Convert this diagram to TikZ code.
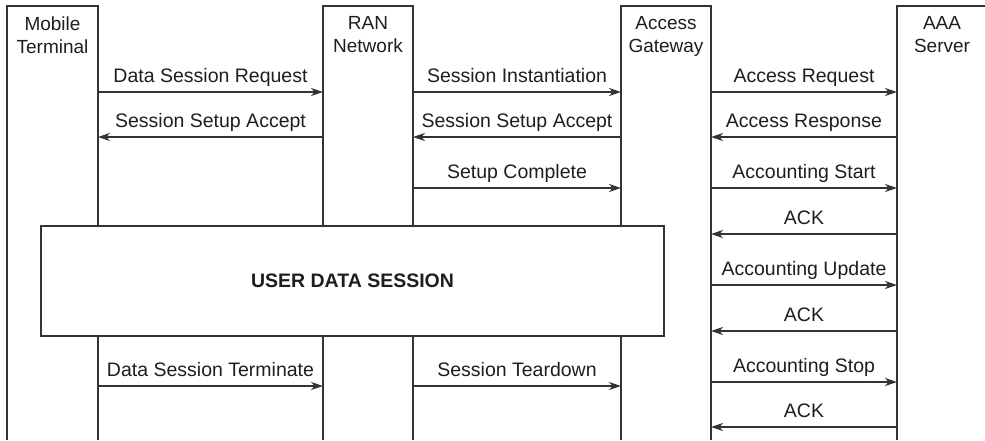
\documentclass[tikz,border=0pt]{standalone}
\usepackage{fontspec}
\setmainfont{Liberation Sans}
\usetikzlibrary{arrows.meta}
\definecolor{ln}{HTML}{333333}
\definecolor{tx}{HTML}{1E1E1E}
\begin{document}
\begin{tikzpicture}[x=0.5pt,y=-0.5pt,
  lifeline/.style={draw=ln,line width=0.8pt},
  msg/.style={draw=ln,line width=0.8pt,-{Stealth[length=6pt,width=4pt,inset=1.8pt]}},
  lbl/.style={midway,anchor=base,yshift=4.8pt,inner sep=0pt,text=tx,font=\fontsize{9.75}{11.5}\selectfont},
  head/.style={anchor=north,inner sep=0pt,align=center,text=tx,font=\fontsize{9.5}{11.3}\selectfont},
  session/.style={draw=ln,line width=0.8pt,fill=white,text=tx,font=\fontsize{9.75}{11.5}\selectfont\bfseries,minimum width=311.5pt,minimum height=55pt,inner sep=0pt}]
\useasboundingbox (0,0) rectangle (985,440);
% column coordinates
\coordinate (mtL) at (7,6);   \coordinate (mtR) at (98,6);
\coordinate (ranL) at (323,6);\coordinate (ranR) at (413,6);
\coordinate (agL) at (621,6); \coordinate (agR) at (711,6);
\coordinate (aaaL) at (897,6);\coordinate (aaaR) at (985,6);
\coordinate (bot) at (0,440);
% columns
\draw[lifeline] (mtL |- bot) -- (mtL) -- (mtR) -- (mtR |- bot);
\draw[lifeline] (ranL |- bot) -- (ranL) -- (ranR) -- (ranR |- bot);
\draw[lifeline] (agL |- bot) -- (agL) -- (agR) -- (agR |- bot);
\draw[lifeline] (aaaL |- bot) -- (aaaL) -- (aaaR);
% headers
\node[head] (hmt) at (52.5,16.5) {Mobile\\Terminal};
\node[head] (hran) at (368,16.5) {RAN\\Network};
\node[head] (hag) at (666,16.5) {Access\\Gateway};
\node[head] (haaa) at (942,16.5) {AAA\\Server};
% row y coordinates
\coordinate (r1) at (0,92);
\coordinate (r2) at (0,137);
\coordinate (r3) at (0,188);
\coordinate (r4) at (0,234);
\coordinate (r5) at (0,285);
\coordinate (r6) at (0,331);
\coordinate (r7) at (0,382);
\coordinate (r7b) at (0,386);
\coordinate (r8) at (0,427);
% messages
\draw[msg] (mtR |- r1) -- node[lbl] (l1) {Data Session Request} (ranL |- r1);
\draw[msg] (ranR |- r1) -- node[lbl] (l2) {Session Instantiation} (agL |- r1);
\draw[msg] (agR |- r1) -- node[lbl] (l3) {Access Request} (aaaL |- r1);
\draw[msg] (ranL |- r2) -- node[lbl] (l4) {Session Setup Accept} (mtR |- r2);
\draw[msg] (agL |- r2) -- node[lbl] (l5) {Session Setup Accept} (ranR |- r2);
\draw[msg] (aaaL |- r2) -- node[lbl] (l6) {Access Response} (agR |- r2);
\draw[msg] (ranR |- r3) -- node[lbl] (l7) {Setup Complete} (agL |- r3);
\draw[msg] (agR |- r3) -- node[lbl] (l8) {Accounting Start} (aaaL |- r3);
\draw[msg] (aaaL |- r4) -- node[lbl] (l9) {ACK} (agR |- r4);
\draw[msg] (agR |- r5) -- node[lbl] (l10) {Accounting Update} (aaaL |- r5);
\draw[msg] (aaaL |- r6) -- node[lbl] (l11) {ACK} (agR |- r6);
\draw[msg] (agR |- r7) -- node[lbl] (l12) {Accounting Stop} (aaaL |- r7);
\draw[msg] (mtR |- r7b) -- node[lbl] (l13) {Data Session Terminate} (ranL |- r7b);
\draw[msg] (ranR |- r7b) -- node[lbl] (l14) {Session Teardown} (agL |- r7b);
\draw[msg] (aaaL |- r8) -- node[lbl] (l15) {ACK} (agR |- r8);
% user data session box
\node[session] (uds) at (352.5,281) {USER DATA SESSION};
\end{tikzpicture}
\end{document}
